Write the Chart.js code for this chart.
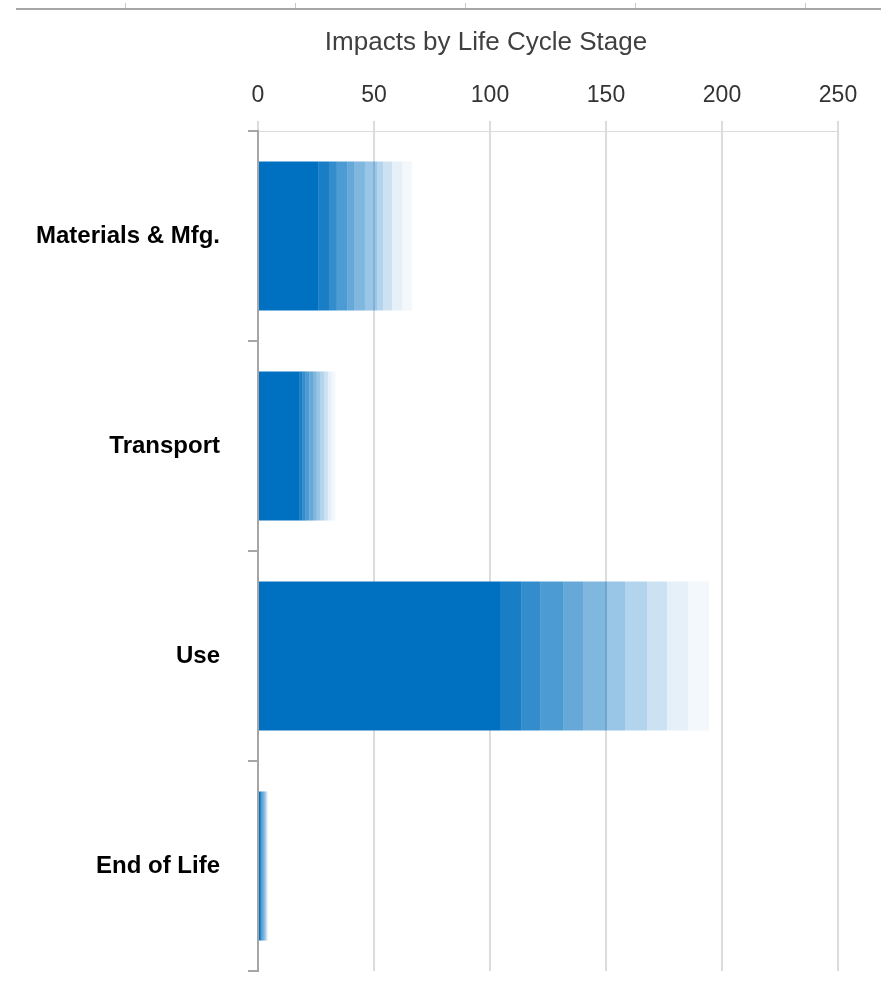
<!DOCTYPE html>
<html>
<head>
<meta charset="utf-8">
<script src="https://cdn.jsdelivr.net/npm/chart.js@4.4.1/dist/chart.umd.min.js"></script>
<style>
  html, body { margin: 0; padding: 0; background: #ffffff; }
  #wrap { position: relative; width: 881px; height: 994px; }
</style>
</head>
<body>
<div id="wrap"><canvas id="c" width="881" height="994"></canvas></div>
<script>
// ---- Data ----
const chartTitle = 'Impacts by Life Cycle Stage';
const categories = ['Materials & Mfg.', 'Transport', 'Use', 'End of Life'];
// cumulative edges of the faded segments for each stage (first = solid part)
const materialsLevels = [25.9, 30.6, 34.0, 38.4, 41.4, 46.1, 51.3, 53.9, 57.8, 62.1, 66.4];
const transportLevels = [17.7, 19.3, 20.6, 22.2, 23.7, 25.3, 26.9, 28.6, 30.2, 31.8, 33.4];
const useLevels       = [104.7, 113.4, 121.6, 131.5, 140.1, 150.4, 158.2, 167.7, 176.3, 185.3, 194.4];
const endOfLifeLevels = [0.9, 1.4, 1.9, 2.3, 2.7, 3.0, 3.3, 3.6, 3.9, 4.1, 4.3];
const segmentAlphas   = [1, 0.9, 0.8, 0.7, 0.6, 0.5, 0.4, 0.3, 0.2, 0.1, 0.05];
const axisMin = 0, axisMax = 250, axisStep = 50;

// ---- Build stacked datasets from the levels ----
const levelsByCategory = [materialsLevels, transportLevels, useLevels, endOfLifeLevels];
const datasets = segmentAlphas.map((a, i) => ({
  label: 'seg' + (i + 1),
  data: levelsByCategory.map(lv => +(lv[i] - (i > 0 ? lv[i - 1] : 0)).toFixed(3)),
  backgroundColor: 'rgba(0,112,192,' + a + ')',
  borderWidth: 0,
  barPercentage: 0.71,
  categoryPercentage: 1.0
}));

const decoPlugin = {
  id: 'deco',
  beforeDraw(chart) {
    const ctx = chart.ctx;
    ctx.save();
    // fragment of a chart above (cropped edge)
    ctx.strokeStyle = '#a6a6a6';
    ctx.lineWidth = 2;
    ctx.beginPath();
    ctx.moveTo(16, 9); ctx.lineTo(chart.width, 9);
    ctx.stroke();
    ctx.lineWidth = 1;
    ctx.strokeStyle = '#c8c8c8';
    [125.5, 295.5, 465.5, 635.5, 805.5].forEach(x => {
      ctx.beginPath(); ctx.moveTo(x, 3); ctx.lineTo(x, 8); ctx.stroke();
    });
    // title
    ctx.fillStyle = '#404040';
    ctx.font = '26px "Liberation Sans", Arial, sans-serif';
    ctx.textAlign = 'center';
    ctx.textBaseline = 'middle';
    ctx.fillText(chartTitle, 486, 43);
    ctx.restore();
  }
};

new Chart(document.getElementById('c'), {
  type: 'bar',
  data: { labels: categories, datasets },
  plugins: [decoPlugin],
  options: {
    indexAxis: 'y',
    responsive: false,
    animation: false,
    layout: { padding: { top: 0, right: 43, bottom: 23, left: 0 } },
    plugins: { legend: { display: false }, tooltip: { enabled: false }, title: { display: false } },
    scales: {
      x: {
        position: 'top',
        stacked: true,
        min: axisMin, max: axisMax,
        afterFit(s) { s.height = 131; },
        ticks: { stepSize: axisStep, color: '#333333', padding: 12,
                 font: { family: '"Liberation Sans", Arial, sans-serif', size: 23 } },
        grid: { color: '#dcdcdc', lineWidth: 2, tickLength: 10 },
        border: { display: true, color: '#dcdcdc', width: 1 }
      },
      y: {
        stacked: true,
        afterFit(s) { s.width = 258; s.paddingTop = 0; s.paddingBottom = 0; },
        ticks: { color: '#000000', padding: 28,
                 font: { family: '"Liberation Sans", Arial, sans-serif', size: 24, weight: 'bold' } },
        grid: { offset: true, drawOnChartArea: false, drawTicks: true, tickLength: 10,
                color: '#a6a6a6', lineWidth: 2 },
        border: { display: true, color: '#a6a6a6', width: 2 }
      }
    }
  }
});
</script>
</body>
</html>
